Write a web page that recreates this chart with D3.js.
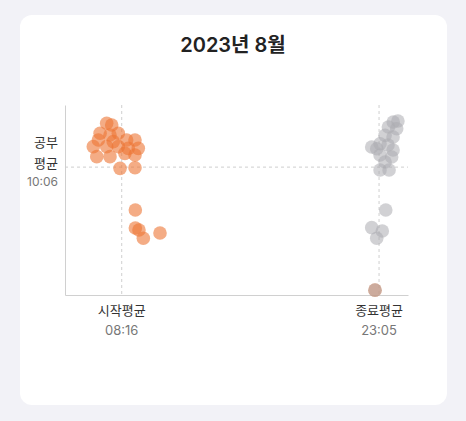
<!DOCTYPE html>
<html>
<head>
<meta charset="utf-8">
<script src="https://cdn.jsdelivr.net/npm/d3@7"></script>
<style>
  body { margin: 0; background: #f2f2f7; }
  svg { display: block; font-family: Inter, "Noto Sans CJK KR", "Noto Sans", sans-serif; }
</style>
</head>
<body>
<div class="chart"></div>
<script>
(function() {

  // start of each study day: hour of day, hours studied
  let startHours = [7.40, 7.69, 7.02, 8.07, 7.59, 6.92, 7.78, 8.55, 9.03, 6.63, 7.40, 8.07, 8.64,
                    9.22, 6.83, 7.59, 8.45, 9.03, 8.17, 9.03, 9.05, 9.05, 9.26, 9.51, 10.47, 22.85];
  let startStudy = [13.70, 13.56, 12.88, 12.88, 12.74, 12.33, 12.19, 12.33, 12.33, 11.78, 11.78, 11.78, 11.64,
                    11.64, 10.96, 10.96, 11.23, 11.09, 10.00, 10.05, 6.58, 5.10, 4.94, 4.26, 4.69, 0.00];

  // end of each study day: hour of day, hours studied
  let endHours = [23.90, 24.17, 24.10, 23.62, 23.43, 23.89, 23.14, 23.60, 22.66, 22.95, 23.89,
                  23.14, 23.81, 23.43, 23.14, 23.66, 23.47, 22.66, 23.27, 22.95, 22.85];
  let endStudy = [13.80, 13.89, 13.25, 13.39, 12.71, 12.57, 12.02, 11.92, 11.75, 11.61, 11.50,
                  11.09, 10.93, 10.52, 9.86, 9.86, 6.58, 5.13, 4.85, 4.26, 0.00];

  // averages and their labels
  let avgStart = 8 + 16 / 60;
  let avgEnd = 23 + 5 / 60;
  let avgStudy = 10 + 6 / 60;
  let xTickNames = ["시작평균", "종료평균"];
  let xTickTimes = ["08:16", "23:05"];
  let yTickNames = ["공부", "평균"];
  let yTickTime = "10:06";
  let title = "2023년 8월";

  let svg = d3.select('.chart').append('svg')
    .attr('width', 466)
    .attr('height', 421);

  // white card
  svg.append('rect')
    .attr('x', 20)
    .attr('y', 15)
    .attr('width', 427)
    .attr('height', 390)
    .attr('rx', 12)
    .attr('fill', '#ffffff');

  svg.append('text')
    .attr('x', 233)
    .attr('y', 52)
    .attr('text-anchor', 'middle')
    .attr('font-size', 20)
    .attr('font-weight', 600)
    .attr('fill', '#222')
    .text(title);

  let xScale = d3.scaleLinear()
    .domain([5, 24.75])
    .range([65, 408]);

  let yScale = d3.scaleLinear()
    .domain([-0.4, 15.2])
    .range([295, 105]);

  // axes: just the domain lines, labels are drawn by hand below
  let xAxis = d3.axisBottom(xScale).tickValues([]).tickSizeOuter(0);
  let yAxis = d3.axisLeft(yScale).tickValues([]).tickSizeOuter(0);

  svg.append('g')
    .attr('transform', 'translate(0, 295)')
    .call(xAxis)
    .select('.domain').attr('stroke', '#d0d0d0');

  svg.append('g')
    .attr('transform', 'translate(65, 0)')
    .call(yAxis)
    .select('.domain').attr('stroke', '#d0d0d0');

  // average guide lines
  let guides = svg.append('g')
    .attr('stroke', '#cfcfcf')
    .attr('stroke-width', 1)
    .attr('stroke-dasharray', '3,3');

  guides.selectAll('.vguide')
    .data([avgStart, avgEnd])
    .enter()
    .append('line')
      .attr('x1', (d) => xScale(d))
      .attr('x2', (d) => xScale(d))
      .attr('y1', yScale.range()[1])
      .attr('y2', yScale.range()[0]);

  guides.append('line')
    .attr('x1', xScale.range()[0])
    .attr('x2', xScale.range()[1])
    .attr('y1', yScale(avgStudy))
    .attr('y2', yScale(avgStudy));

  // x labels
  let xLabels = svg.selectAll('.xlabel')
    .data([avgStart, avgEnd])
    .enter()
    .append('g')
      .attr('transform', (d) => 'translate(' + xScale(d) + ', 0)');

  xLabels.append('text')
    .attr('y', 315)
    .attr('text-anchor', 'middle')
    .attr('font-size', 13)
    .attr('fill', '#333')
    .text((d, i) => xTickNames[i]);

  xLabels.append('text')
    .attr('y', 335)
    .attr('text-anchor', 'middle')
    .attr('font-size', 13)
    .attr('fill', '#777')
    .text((d, i) => xTickTimes[i]);

  // y labels
  let yBase = yScale(avgStudy);
  svg.selectAll('.ylabel')
    .data(yTickNames)
    .enter()
    .append('text')
      .attr('x', 58)
      .attr('y', (d, i) => yBase - 20 + i * 21)
      .attr('text-anchor', 'end')
      .attr('font-size', 13)
      .attr('fill', '#333')
      .text((d) => d);

  svg.append('text')
    .attr('x', 58)
    .attr('y', yBase + 19)
    .attr('text-anchor', 'end')
    .attr('font-size', 12)
    .attr('fill', '#777')
    .text(yTickTime);

  // start points
  svg.append('g').selectAll('circle')
    .data(startHours)
    .enter()
    .append('circle')
      .attr('cx', (d) => xScale(d))
      .attr('cy', (d, i) => yScale(startStudy[i]))
      .attr('r', 6.8)
      .attr('fill', '#ec7434')
      .attr('fill-opacity', 0.6);

  // end points
  svg.append('g').selectAll('circle')
    .data(endHours)
    .enter()
    .append('circle')
      .attr('cx', (d) => xScale(d))
      .attr('cy', (d, i) => yScale(endStudy[i]))
      .attr('r', 6.8)
      .attr('fill', '#ababb0')
      .attr('fill-opacity', 0.55);

})();
</script>
</body>
</html>
